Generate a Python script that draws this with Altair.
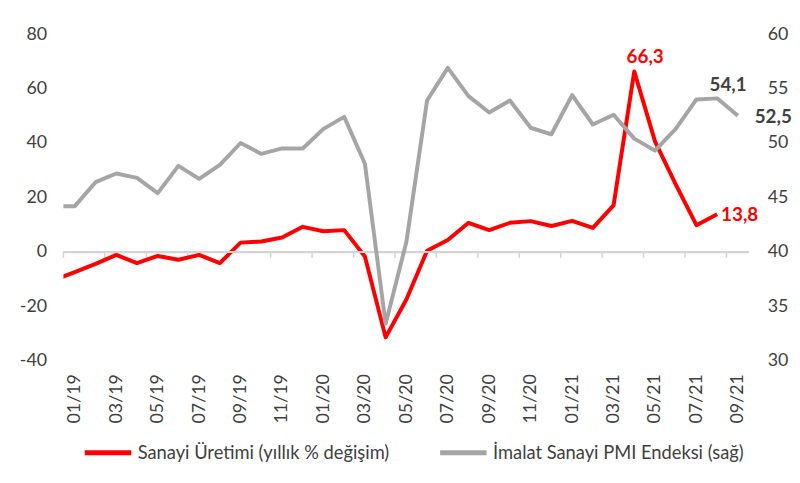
import altair as alt
import pandas as pd

# Months (12/18 is the partly clipped point before the axis start)
months = ["12/18",
          "01/19", "02/19", "03/19", "04/19", "05/19", "06/19", "07/19", "08/19", "09/19", "10/19", "11/19", "12/19",
          "01/20", "02/20", "03/20", "04/20", "05/20", "06/20", "07/20", "08/20", "09/20", "10/20", "11/20", "12/20",
          "01/21", "02/21", "03/21", "04/21", "05/21", "06/21", "07/21", "08/21", "09/21"]

sanayi = [-10.3,
          -7.4, -4.4, -1.1, -4.1, -1.5, -2.9, -1.1, -4.1, 3.4, 3.8, 5.3, 9.2,
          7.6, 8.0, -1.7, -31.4, -17.5, 0.4, 4.4, 10.7, 8.0, 10.7, 11.3, 9.5,
          11.4, 8.8, 17.1, 66.3, 40.6, 24.8, 9.8, 13.8, None]

pmi = [44.2,
       44.2, 46.4, 47.2, 46.8, 45.4, 47.9, 46.7, 48.0, 50.0, 49.0, 49.5, 49.5,
       51.3, 52.4, 48.1, 33.4, 40.9, 53.9, 56.9, 54.3, 52.8, 53.9, 51.4, 50.8,
       54.4, 51.7, 52.6, 50.4, 49.3, 51.3, 54.0, 54.1, 52.5]

red_name = "Sanayi Üretimi (yıllık % değişim)"
gray_name = "İmalat Sanayi PMI Endeksi (sağ)"

left_ticks = [-40, -20, 0, 20, 40, 60, 80]
right_ticks = [30, 35, 40, 45, 50, 55, 60]
label_idx = list(range(0, 33, 2))

red_labels = ["04/21", "08/21"]
gray_labels = ["08/21", "09/21"]

rows = []
for i, m in enumerate(months):
    if sanayi[i] is not None:
        rows.append({"idx": i - 1, "month": m, "series": red_name, "value": sanayi[i],
                     "txt": f"{sanayi[i]:.1f}".replace(".", ",")})
    if pmi[i] is not None:
        rows.append({"idx": i - 1, "month": m, "series": gray_name, "value": pmi[i],
                     "txt": f"{pmi[i]:.1f}".replace(".", ",")})
df = pd.DataFrame(rows)

# category-axis tick marks sit half a month before every labelled month
ticks_df = pd.DataFrame({"tx": [i - 0.55 for i in label_idx]})
zero_df = pd.DataFrame({"left_zero": [0], "right_zero": [40]})

FONT = "Lato"
RED = "#FF0000"
GRAY = "#A5A5A5"
TXT = "#404040"
AXIS_LINE = "#D4D4D4"

xscale = alt.Scale(domain=[-0.55, 32.51], nice=False, zero=False)
label_expr = "[" + ",".join(f"'{m}'" for m in months) + "][datum.value + 1]"

x_axis = alt.Axis(values=label_idx, labelExpr=label_expr, labelAngle=-90, orient="bottom",
                  domain=False, ticks=False, grid=False, title=None,
                  labelFont=FONT, labelFontSize=18, labelColor=TXT, labelPadding=13)
x_zero_axis = alt.Axis(values=label_idx, labels=False, domain=True, domainColor=AXIS_LINE,
                       domainWidth=2, ticks=False, offset=-220, grid=False, title=None)

color = alt.Color("series:N",
                  scale=alt.Scale(domain=[red_name, gray_name], range=[RED, GRAY]),
                  legend=alt.Legend(orient="none", legendX=19, legendY=397, direction="horizontal",
                                    title=None, symbolType="stroke", symbolSize=2209,
                                    symbolStrokeWidth=5, labelFont=FONT, labelFontSize=18.5,
                                    labelColor=TXT, labelOffset=4, columnPadding=40, padding=0,
                                    labelLimit=500))

base = alt.Chart(df)

yl = alt.Scale(domain=[-40, 80], nice=False)
yr = alt.Scale(domain=[30, 60], nice=False)
yl_axis = alt.Axis(values=left_ticks, domain=False, ticks=False, grid=False, title=None,
                   labelExpr="'' + datum.value",
                   labelFont=FONT, labelFontSize=18, labelColor=TXT, labelPadding=17)
yr_axis = alt.Axis(values=right_ticks, orient="right", domain=False, ticks=False, grid=False,
                   title=None, labelExpr="'' + datum.value", labelFont=FONT, labelFontSize=18,
                   labelColor=TXT, labelPadding=19)

zero_left = alt.Chart(zero_df).mark_rule(color=AXIS_LINE, strokeWidth=2).encode(
    y=alt.Y("left_zero:Q", scale=yl, axis=yl_axis),
)
zero_right = alt.Chart(zero_df).mark_rule(color=AXIS_LINE, strokeWidth=2).encode(
    y=alt.Y("right_zero:Q", scale=yr, axis=yr_axis),
)

tick_marks = alt.Chart(ticks_df).mark_rule(color=AXIS_LINE, strokeWidth=1.5).encode(
    x=alt.X("tx:Q", scale=xscale, axis=x_axis),
    y=alt.Y(datum=0, scale=yl, axis=yl_axis),
    y2=alt.Y2(datum=-2.2),
)


def line_layer(series, xaxis, yscale, yaxis):
    return base.transform_filter(alt.datum.series == series).mark_line(
        strokeWidth=4, clip=True, strokeJoin="round").encode(
        x=alt.X("idx:Q", scale=xscale, axis=xaxis),
        y=alt.Y("value:Q", scale=yscale, axis=yaxis),
        color=color,
    )


def text_layer(series, month, xaxis, yscale, yaxis, col, dx, dy, align, baseline):
    return base.transform_filter(
        (alt.datum.series == series) & (alt.datum.month == month)
    ).mark_text(font=FONT, fontSize=19, fontWeight="bold", color=col,
                dx=dx, dy=dy, align=align, baseline=baseline).encode(
        x=alt.X("idx:Q", scale=xscale, axis=xaxis),
        y=alt.Y("value:Q", scale=yscale, axis=yaxis),
        text="txt:N",
    )


red_line = line_layer(red_name, x_axis, yl, yl_axis)
red_t1 = text_layer(red_name, red_labels[0], x_axis, yl, yl_axis, RED, 11, -8, "center", "alphabetic")
red_t2 = text_layer(red_name, red_labels[1], x_axis, yl, yl_axis, RED, 4, 1, "left", "middle")

gray_line = line_layer(gray_name, x_zero_axis, yr, yr_axis)
gray_t1 = text_layer(gray_name, gray_labels[0], x_zero_axis, yr, yr_axis, TXT, 11, -7, "center", "alphabetic")
gray_t2 = text_layer(gray_name, gray_labels[1], x_zero_axis, yr, yr_axis, TXT, 17, 1, "left", "middle")

left = alt.layer(zero_left, tick_marks, red_line, red_t1, red_t2)
right = alt.layer(zero_right, gray_line, gray_t1, gray_t2)

chart = alt.layer(left, right).resolve_scale(y="independent").resolve_axis(x="independent").properties(
    width=692, height=330,
    autosize=alt.AutoSizeParams(type="none"),
    padding={"left": 56, "top": 24, "right": 44, "bottom": 112},
).configure_view(stroke=None)

chart.save("out.html", embed_options={"renderer": "svg", "actions": False})
